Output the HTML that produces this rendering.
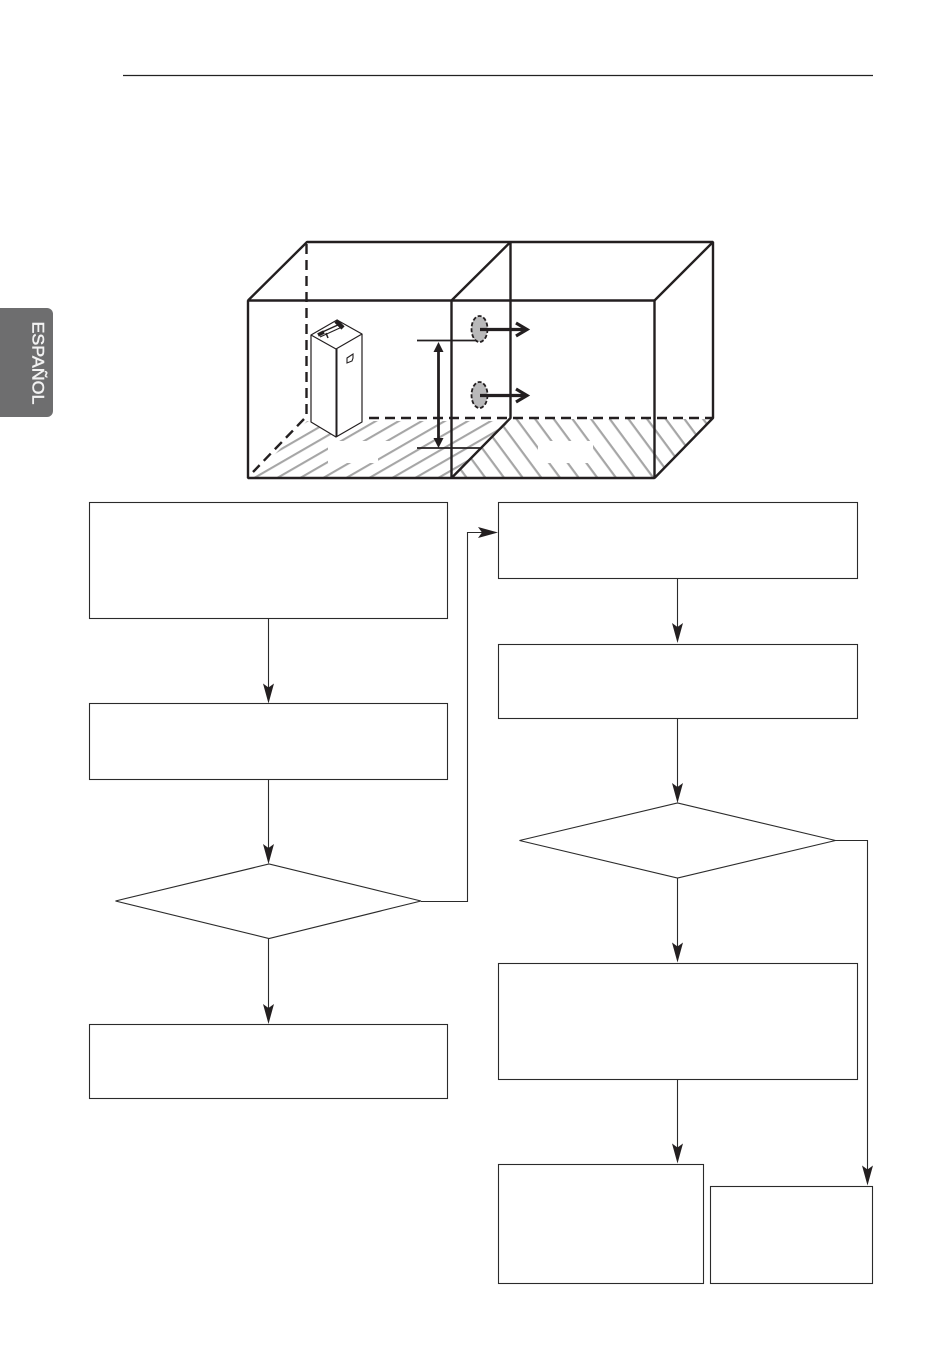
<!DOCTYPE html>
<html lang="es">
<head>
<meta charset="utf-8">
<title>Diagrama</title>
<style>
html,body{margin:0;padding:0;background:#fff;}
body{width:950px;height:1348px;overflow:hidden;}
svg{display:block;}
</style>
</head>
<body>
<svg width="950" height="1348" viewBox="0 0 950 1348" xmlns="http://www.w3.org/2000/svg">
<defs>
<pattern id="hleft" width="40" height="11.5" patternUnits="userSpaceOnUse" patternTransform="translate(282 474) rotate(-30)">
<rect x="0" y="0" width="40" height="2.1" fill="#a6a6a6"/>
</pattern>
<pattern id="hright" width="40" height="15" patternUnits="userSpaceOnUse" patternTransform="translate(522 475) rotate(53.5)">
<rect x="0" y="0" width="40" height="2.2" fill="#a6a6a6"/>
</pattern>
</defs>

<!-- header rule -->
<line x1="123" y1="75.5" x2="873" y2="75.5" stroke="#222" stroke-width="1.2"/>

<!-- side tab -->
<path d="M0 308H47a6 6 0 0 1 6 6V411a6 6 0 0 1-6 6H0Z" fill="#6e6e6f"/>
<text transform="translate(32.500 321.500) rotate(90)" font-family="'Liberation Sans',sans-serif" font-size="16.5" font-weight="400" textLength="83" lengthAdjust="spacingAndGlyphs" fill="#f2f2f2" stroke="#f2f2f2" stroke-width=".5">ESPAÑOL</text>

<!-- floor hatching -->
<polygon points="252,478 307,421 510,421 451,478" fill="url(#hleft)"/>
<polygon points="451,478 510,419 713,419 654,478" fill="url(#hright)"/>
<polygon points="328,441 400,441 378,450 378,463 328,463" fill="#fff"/>
<rect x="538" y="441" width="55" height="22" fill="#fff"/>

<!-- room boxes -->
<g fill="none" stroke="#231f20" stroke-width="2.4" stroke-linejoin="bevel">
<path d="M248 478V300.500H654.500V478Z"/>
<path d="M248 300.500L307 242H713V418L654.500 478"/>
<path d="M713 242L654.500 300.500"/>
<path d="M451.500 300.500V478"/>
<path d="M451.500 300.500L510.500 242V418L451.500 478"/>
</g>
<g fill="none" stroke="#231f20" stroke-width="2.4" stroke-dasharray="10 6">
<path d="M306.500 244V418"/>
<path d="M369 418H713"/>
<path d="M304 419L253 472"/>
</g>

<!-- indoor unit -->
<polygon points="311,335 336,349 362,334 337,320" fill="#fff"/>
<polygon points="311,335 336,349 336,437 311,422" fill="#fff"/>
<polygon points="336,349 362,334 362,422 336,437" fill="#fff"/>
<g fill="none" stroke="#231f20" stroke-width="1.2" stroke-linejoin="round">
<polygon points="311,335 336,349 362,334 337,320"/>
<path d="M311 335V422L336 437L362 422V334"/>
</g>
<line x1="336.500" y1="349" x2="336.500" y2="437" stroke="#231f20" stroke-width="2"/>
<polygon points="347,358 353,354 353,358 352,361 347,363" fill="#fff" stroke="#231f20" stroke-width="1.100"/>
<g stroke="#231f20" fill="none">
<line x1="318" y1="334" x2="340" y2="324" stroke-width="1.500"/>
<line x1="320" y1="337" x2="342" y2="327" stroke-width="1.200"/>
<line x1="318" y1="335" x2="324" y2="332" stroke-width="3.500"/>
<line x1="326" y1="333" x2="328" y2="338" stroke-width="1.500"/>
<line x1="336" y1="321" x2="343" y2="328" stroke-width="4.500"/>
</g>

<!-- height dimension -->
<g stroke="#231f20" fill="none">
<line x1="417" y1="340.500" x2="482" y2="340.500" stroke-width="1.800"/>
<line x1="417" y1="448" x2="482" y2="448" stroke-width="1.800"/>
<line x1="438.500" y1="350" x2="438.500" y2="440" stroke-width="2.800"/>
</g>
<polygon points="438.500,342 433.500,352 443.500,352" fill="#231f20"/>
<polygon points="438.500,448 433.500,438 443.500,438" fill="#231f20"/>

<!-- outlets -->
<g fill="#b9b9ba" stroke="#231f20" stroke-width="1.800" stroke-dasharray="4 2">
<ellipse cx="479.500" cy="329" rx="8" ry="13"/>
<ellipse cx="479.500" cy="395" rx="8" ry="13"/>
</g>
<g fill="none" stroke="#231f20" stroke-width="3.200">
<path d="M480 329.500H526"/>
<path d="M516 323L527 329.500L516 336"/>
<path d="M480 395.500H526"/>
<path d="M516 389L527 395.500L516 402"/>
</g>

<!-- flowchart -->
<g fill="#fff" stroke="#2b2b2b" stroke-width="1.100">
<rect x="89.500" y="502.500" width="358" height="116"/>
<rect x="89.500" y="703.500" width="358" height="76"/>
<polygon points="115.500,901 269,864 421,901 269,938.500"/>
<rect x="89.500" y="1024.500" width="358" height="74"/>
<rect x="498.500" y="502.500" width="359" height="76"/>
<rect x="498.500" y="644.500" width="359" height="74"/>
<polygon points="519.500,840.500 677.500,803 835.500,840.500 677.500,878"/>
<rect x="498.500" y="963.500" width="359" height="116"/>
<rect x="498.500" y="1164.500" width="205" height="119"/>
<rect x="710.500" y="1186.500" width="162" height="97"/>
</g>

<!-- connectors -->
<g fill="none" stroke="#2b2b2b" stroke-width="1.100">
<path d="M268.500 619V690"/>
<path d="M268.500 780V851"/>
<path d="M268.500 939V1011"/>
<path d="M421 901.500H467.500V532.500H485"/>
<path d="M677.500 579V630"/>
<path d="M677.500 719V790"/>
<path d="M677.500 878V949"/>
<path d="M677.500 1080V1150"/>
<path d="M835 840.500H867.500V1172"/>
</g>
<g fill="#231f20">
<polygon points="268.500,703.500 263,683.500 268.500,687.500 274,683.500"/>
<polygon points="268.500,864 263,844 268.500,848 274,844"/>
<polygon points="268.500,1024 263,1004 268.500,1008 274,1004"/>
<polygon points="498,532.500 478,527 482,532.500 478,538"/>
<polygon points="677.500,643 672,623 677.500,627 683,623"/>
<polygon points="677.500,803 672,783 677.500,787 683,783"/>
<polygon points="677.500,962.500 672,942.500 677.500,946.500 683,942.500"/>
<polygon points="677.500,1163.500 672,1143.500 677.500,1147.500 683,1143.500"/>
<polygon points="867.500,1185.500 862,1165.500 867.500,1169.500 873,1165.500"/>
</g>
</svg>
</body>
</html>
